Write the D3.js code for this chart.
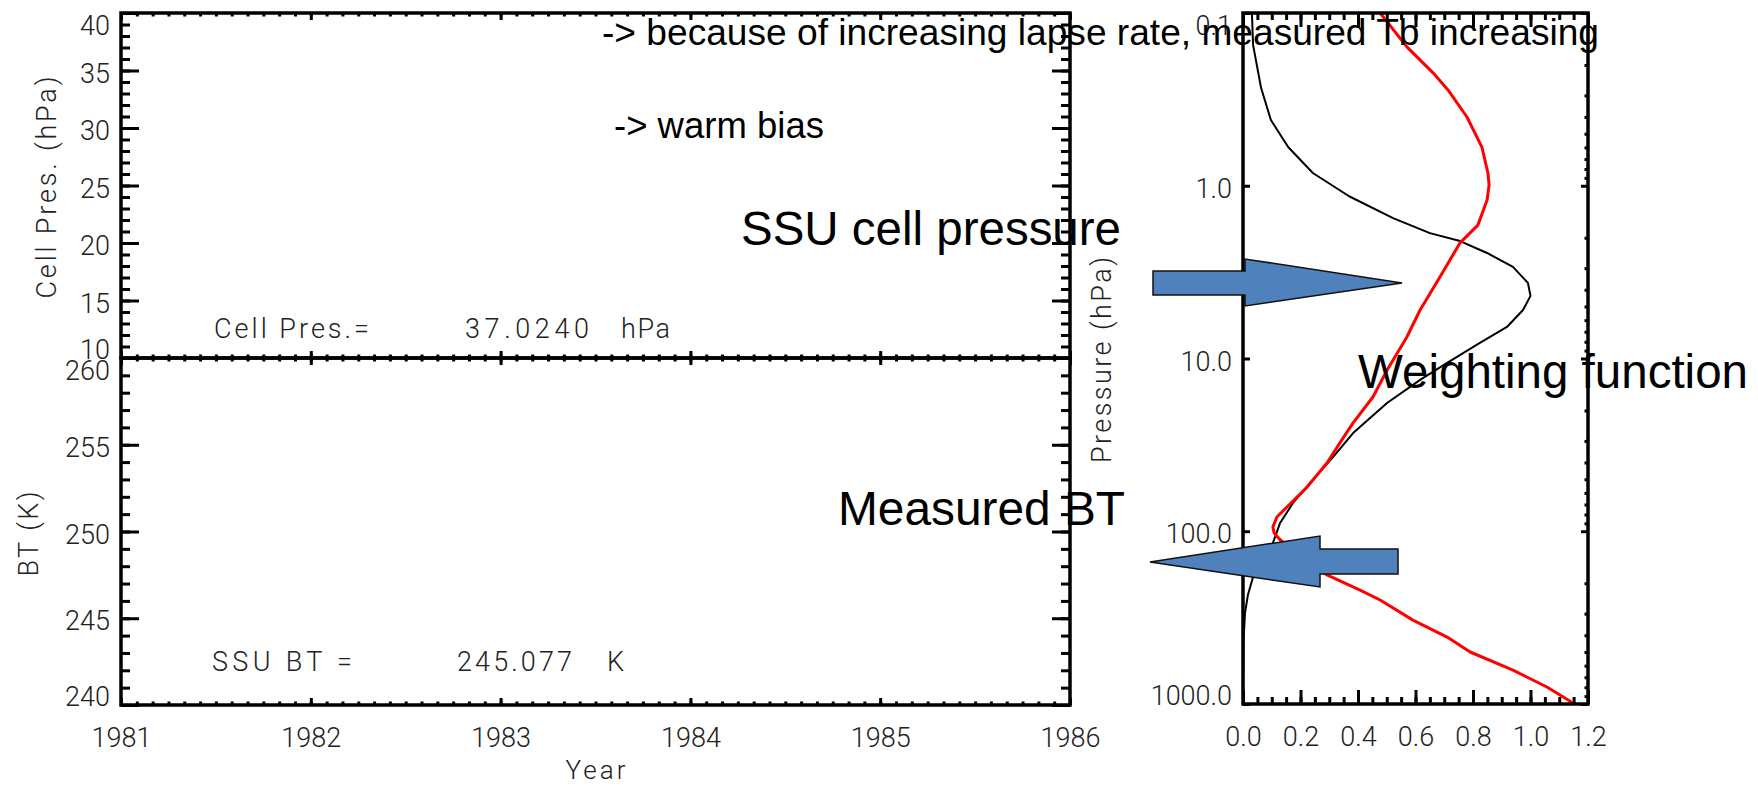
<!DOCTYPE html>
<html>
<head>
<meta charset="utf-8">
<script src="https://cdn.jsdelivr.net/npm/d3@7"></script>
<style>
  html, body { margin: 0; padding: 0; background: #fff; }
  svg { display: block; }
</style>
</head>
<body>
<svg id="chart" width="1758" height="788"></svg>
<script>
// ---------------- DATA ----------------
const years = [1981, 1982, 1983, 1984, 1985, 1986];
const cellPresTicks = [10, 15, 20, 25, 30, 35, 40];
const btTicks = [240, 245, 250, 255, 260];
const pressureTicks = [0.1, 1, 10, 100, 1000];
const weightTicks = [0, 0.2, 0.4, 0.6, 0.8, 1.0, 1.2];

// weighting function (black)
const wfValue = [0.031, 0.035, 0.063, 0.097, 0.157, 0.243, 0.369, 0.522, 0.650, 0.755, 0.849, 0.939, 0.991, 1.000,
                 0.974, 0.918, 0.824, 0.710, 0.616, 0.501, 0.383, 0.313, 0.233, 0.174, 0.129, 0.104, 0.066, 0.035,
                 0.017, 0.007, 0.002, 0.0];
const wfPres  = [0.1, 0.153, 0.272, 0.416, 0.597, 0.844, 1.15, 1.54, 1.88, 2.09, 2.45, 2.95, 3.65, 4.34,
                 5.24, 6.57, 8.13, 10.6, 13.3, 18.1, 27.0, 37.2, 52.6, 68.6, 89.5, 117, 153, 184,
                 234, 297, 427, 1000];

// scaled temperature profile (red)
const tempValue = [0.477, 0.570, 0.661, 0.713, 0.779, 0.831, 0.852, 0.856, 0.849, 0.817, 0.755, 0.685, 0.616, 0.570,
                   0.501, 0.452, 0.383, 0.337, 0.292, 0.223, 0.153, 0.118, 0.104, 0.108, 0.129, 0.163, 0.233, 0.292,
                   0.407, 0.477, 0.591, 0.710, 0.790, 0.939, 1.057, 1.148];
const tempPres  = [0.1, 0.157, 0.222, 0.279, 0.400, 0.597, 0.844, 0.99, 1.21, 1.69, 2.14, 3.37, 5.24, 7.51,
                   11.7, 16.7, 23.6, 30.8, 40.3, 55.5, 72.4, 82.7, 94.4, 102, 112, 125, 153, 179,
                   219, 250, 327, 410, 500, 636, 797, 986];

const cellPresValue = "37.0240";
const btValue = "245.077";

// ---------------- SETUP ----------------
const svg = d3.select('#chart');
const FONT_H = "Roboto, 'DejaVu Sans', sans-serif";
const FONT_A = "'Liberation Sans', Arial, Helvetica, sans-serif";
const LABEL_SIZE = 27;
const LABEL_FILL = '#222';

const L = {left: 121, right: 1070, top: 13, mid: 358, bottom: 705};
const R = {left: 1243, right: 1588, top: 13, bottom: 704};

const xYear = d3.scaleLinear([1981, 1986], [L.left, L.right]);
const yCell = d3.scaleLinear([10, 40], [L.mid, L.top]);
const yBT   = d3.scaleLinear([240, 260], [L.bottom, L.mid]);
const xW    = d3.scaleLinear([0, 1.2], [R.left, R.right]);
const yP    = d3.scaleLog([0.1, 1000], [R.top, R.bottom]);

const monthMinor = d3.range(0, 61).map(i => 1981 + i / 12);
const cellMinor = d3.range(10, 41);
const btMinor = d3.range(240, 261);
const wMinor = d3.range(0, 25).map(i => i * 0.05);
const pMinor = [];
[0.1, 1, 10, 100].forEach(d => { for (let k = 2; k <= 9; k++) pMinor.push(d * k); });

function styleAxis(g) {
  g.select('.domain').remove();
  g.attr('color', '#000');
  g.selectAll('.tick line').attr('stroke-width', 3).attr('stroke', '#000');
  g.selectAll('.tick text')
    .attr('font-family', FONT_H).attr('font-size', LABEL_SIZE)
    .attr('font-weight', 300).attr('fill', LABEL_FILL);
}

function yAxisPair(scale, major, minor, left, right, majLen, minLen, fmt, withLeftMinor) {
  const g = svg.append('g');
  const a1 = g.append('g').attr('transform', `translate(${left},0)`)
    .call(d3.axisLeft(scale).tickValues(major).tickSize(-majLen).tickPadding(11).tickFormat(fmt));
  styleAxis(a1);
  if (withLeftMinor) {
    const a2 = g.append('g').attr('transform', `translate(${left},0)`)
      .call(d3.axisLeft(scale).tickValues(minor).tickSize(-minLen).tickFormat(''));
    styleAxis(a2);
  }
  const a3 = g.append('g').attr('transform', `translate(${right},0)`)
    .call(d3.axisRight(scale).tickValues(major).tickSize(-majLen).tickFormat(''));
  styleAxis(a3);
  const a4 = g.append('g').attr('transform', `translate(${right},0)`)
    .call(d3.axisRight(scale).tickValues(minor).tickSize(-minLen).tickFormat(''));
  styleAxis(a4);
  // end labels pushed inside the frame, as in the original
  const dom = scale.domain();
  const lo = Math.min(dom[0], dom[1]), hi = Math.max(dom[0], dom[1]);
  const topVal = scale(lo) < scale(hi) ? lo : hi;
  const botVal = topVal === lo ? hi : lo;
  a1.selectAll('.tick text').attr('dy', d => {
    if (d === topVal) return 21.5;
    if (d === botVal) return 0.5;
    return 11.6;
  });
  return a1;
}

function xAxisPair(scale, major, minor, top, bottom, majLen, minLen, fmt, topMajLen, topMinLen, showLabels) {
  const g = svg.append('g');
  const b1 = g.append('g').attr('transform', `translate(0,${bottom})`)
    .call(d3.axisBottom(scale).tickValues(major).tickSize(-majLen).tickFormat(showLabels ? fmt : ''));
  styleAxis(b1);
  b1.selectAll('.tick text').attr('y', 0).attr('dy', 42);
  const b2 = g.append('g').attr('transform', `translate(0,${bottom})`)
    .call(d3.axisBottom(scale).tickValues(minor).tickSize(-minLen).tickFormat(''));
  styleAxis(b2);
  const t1 = g.append('g').attr('transform', `translate(0,${top})`)
    .call(d3.axisTop(scale).tickValues(major).tickSize(-topMajLen).tickFormat(''));
  styleAxis(t1);
  const t2 = g.append('g').attr('transform', `translate(0,${top})`)
    .call(d3.axisTop(scale).tickValues(minor).tickSize(-topMinLen).tickFormat(''));
  styleAxis(t2);
}

// ---------------- LEFT PANELS ----------------
yAxisPair(yCell, cellPresTicks, cellMinor, L.left, L.right, 18, 9, d3.format('d'), true);
xAxisPair(xYear, years, monthMinor, L.top, L.mid, 7, 3.5, d => String(d), 7, 3.5, false);
yAxisPair(yBT, btTicks, btMinor, L.left, L.right, 18, 9, d3.format('d'), true);
xAxisPair(xYear, years, monthMinor, L.mid, L.bottom, 7, 3.5, d => String(d), 7, 3.5, true);

svg.append('rect').attr('x', L.left).attr('y', L.top).attr('width', L.right - L.left).attr('height', L.mid - L.top)
  .attr('fill', 'none').attr('stroke', '#000').attr('stroke-width', 3.5);
svg.append('rect').attr('x', L.left).attr('y', L.mid).attr('width', L.right - L.left).attr('height', L.bottom - L.mid)
  .attr('fill', 'none').attr('stroke', '#000').attr('stroke-width', 3.5);

function hText(x, y, str, opts = {}) {
  const t = svg.append('text').attr('x', x).attr('y', y).text(str)
    .attr('font-family', FONT_H).attr('font-size', opts.size || LABEL_SIZE).attr('font-weight', 300)
    .attr('fill', LABEL_FILL).attr('text-anchor', opts.anchor || 'start');
  if (opts.len) t.attr('textLength', opts.len).attr('lengthAdjust', 'spacing');
  if (opts.rotate) t.attr('transform', `rotate(-90,${x},${y})`);
  return t;
}
hText(56, (L.top + L.mid) / 2 + 2, 'Cell Pres. (hPa)', {anchor: 'middle', rotate: true, len: 222});
hText(38, 534, 'BT (K)', {anchor: 'middle', rotate: true, len: 85});
hText((L.left + L.right) / 2, 779, 'Year', {anchor: 'middle', len: 60, size: 26});

hText(214, 338, 'Cell Pres.=', {len: 155});
hText(465, 338, cellPresValue, {len: 124});
hText(621, 338, 'hPa', {len: 49});
hText(212, 671, 'SSU BT =', {len: 140});
hText(457, 671, btValue, {len: 115});
hText(607, 671, 'K');

// ---------------- RIGHT PANEL ----------------
svg.append('defs').append('clipPath').attr('id', 'rclip')
  .append('rect').attr('x', R.left).attr('y', R.top).attr('width', R.right - R.left).attr('height', R.bottom - R.top);

yAxisPair(yP, pressureTicks, pMinor, R.left, R.right, 7, 3.5, d => d.toFixed(1), false);
xAxisPair(xW, weightTicks, wMinor, R.top, R.bottom, 14, 7, d => d.toFixed(1), 14, 7, true);
hText(1111, 360, 'Pressure (hPa)', {anchor: 'middle', rotate: true, len: 206});

const line = d3.line().x(d => xW(d[0])).y(d => yP(d[1]));
const curves = svg.append('g').attr('clip-path', 'url(#rclip)');
curves.append('path').attr('d', line(wfValue.map((v, i) => [v, wfPres[i]])))
  .attr('fill', 'none').attr('stroke', '#000').attr('stroke-width', 2).attr('stroke-linejoin', 'round');
curves.append('path').attr('d', line(tempValue.map((v, i) => [v, tempPres[i]])))
  .attr('fill', 'none').attr('stroke', '#ff0000').attr('stroke-width', 3).attr('stroke-linejoin', 'round');

svg.append('rect').attr('x', R.left).attr('y', R.top).attr('width', R.right - R.left).attr('height', R.bottom - R.top)
  .attr('fill', 'none').attr('stroke', '#000').attr('stroke-width', 3.5);

// ---------------- ANNOTATIONS ----------------
const arrowRight = [[1153, 271], [1245, 271], [1245, 259], [1402, 283], [1245, 306], [1245, 295], [1153, 295]];
const arrowLeft  = [[1150, 562], [1320, 536], [1320, 549], [1398, 549], [1398, 574], [1320, 574], [1320, 587]];
[arrowRight, arrowLeft].forEach(pts => {
  svg.append('polygon').attr('points', pts.map(p => p.join(',')).join(' '))
    .attr('fill', '#4F81BD').attr('stroke', '#111').attr('stroke-width', 1.5).attr('stroke-linejoin', 'miter');
});

function aText(x, y, str, size, len) {
  const t = svg.append('text').attr('x', x).attr('y', y).text(str)
    .attr('font-family', FONT_A).attr('font-size', size).attr('fill', '#000');
  if (len) t.attr('textLength', len).attr('lengthAdjust', 'spacingAndGlyphs');
  return t;
}
aText(602, 45, '-> because of increasing lapse rate, measured Tb increasing', 37, 997);
aText(614, 138, '-> warm bias', 37, 210);
aText(741, 245, 'SSU cell pressure', 47.5, 380);
aText(838, 525, 'Measured BT', 47.5, 287);
aText(1358, 388, 'Weighting function', 47.5, 390);
</script>
</body>
</html>
